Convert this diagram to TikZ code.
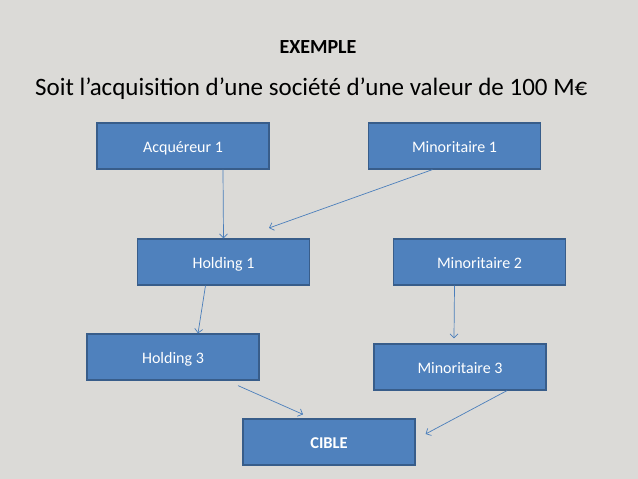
\documentclass[tikz,border=0pt]{standalone}
\usepackage{fontspec}
\setmainfont{Carlito}
\usetikzlibrary{arrows.meta}
\definecolor{bg}{RGB}{219,218,215}
\definecolor{boxfill}{RGB}{79,129,189}
\definecolor{boxline}{RGB}{56,93,138}
\definecolor{arr}{RGB}{74,126,187}
\tikzset{
  box/.style={draw=boxline, fill=boxfill, line width=1.2pt, minimum width=172pt,
    minimum height=46pt, text=white, font=\fontsize{16}{18}\selectfont, inner sep=0pt,
    text height=12pt, text depth=0pt},
  conn/.style={draw=arr, line width=0.7pt, -{Straight Barb[length=4pt,width=8pt]}}
}
\begin{document}
\begin{tikzpicture}[x=1pt,y=-1pt]
\fill[bg] (0,0) rectangle (638,479);
\useasboundingbox (0,0) rectangle (638,479);
\node[font=\bfseries\fontsize{20}{22}\selectfont] (title) at (318,47) {EXEMPLE};
\node[anchor=west, font=\fontsize{25}{28}\selectfont, inner sep=0pt] (sub) at (35,89) {Soit l’acquisition d’une société d’une valeur de 100 M€};
\node[box] (acq) at (183,146) {Acquéreur 1};
\node[box] (m1) at (454.5,146) {Minoritaire 1};
\node[box] (h1) at (223.5,262) {Holding 1};
\node[box] (m2) at (479.5,262) {Minoritaire 2};
\node[box] (h3) at (173,357) {Holding 3};
\node[box] (m3) at (460,367) {Minoritaire 3};
\node[box, font=\bfseries\fontsize{16.5}{18}\selectfont] (cible) at (329,442) {CIBLE};
\coordinate (m1end) at (269,228);
\draw[conn] ([xshift=40pt]acq.south) -- (h1.north);
\draw[conn] ([xshift=-22pt]m1.south) -- (m1end);
\draw[conn] ([xshift=-18pt]h1.south) -- ([xshift=25pt]h3.north);
\draw[conn] ([xshift=-25pt]m2.south) -- ([shift={(-6pt,5pt)}]m3.north);
\draw[conn] ([shift={(65pt,-5pt)}]h3.south) -- ([shift={(-26pt,4pt)}]cible.north);
\draw[conn] ([xshift=47pt]m3.south) -- ([shift={(10pt,8pt)}]cible.east);
\end{tikzpicture}
\end{document}
